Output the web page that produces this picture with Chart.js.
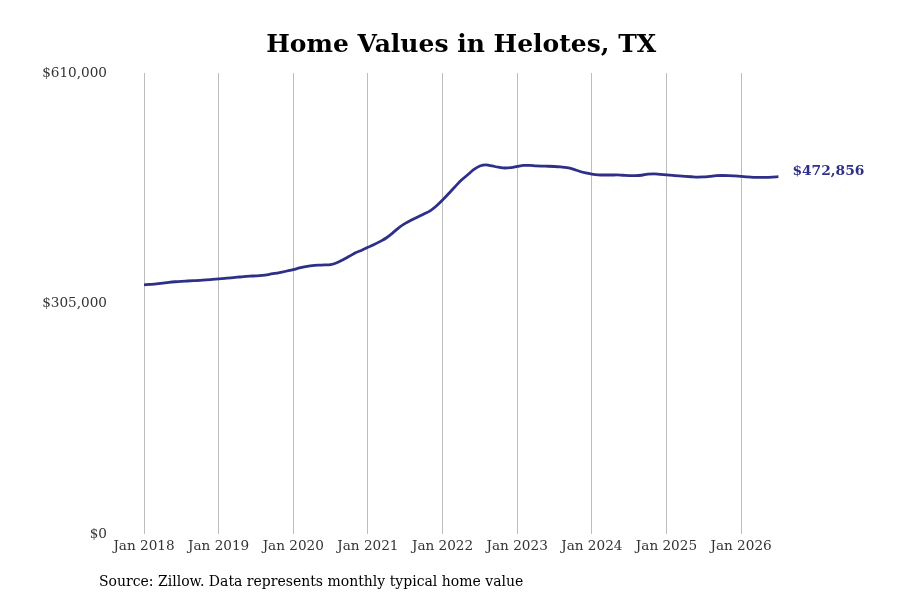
<!DOCTYPE html>
<html>
<head>
<meta charset="utf-8">
<script src="https://cdn.jsdelivr.net/npm/chart.js@4.4.1/dist/chart.umd.min.js"></script>
<style>
  html, body { margin: 0; padding: 0; background: #fff; }
  #wrap { width: 900px; height: 600px; position: relative; }
</style>
</head>
<body>
<div id="wrap"><canvas id="c" width="900" height="600"></canvas></div>
<script>
const chartTitle = "Home Values in Helotes, TX";
const sourceNote = "Source: Zillow. Data represents monthly typical home value";
const years = [2018, 2019, 2020, 2021, 2022, 2023, 2024, 2025, 2026];
const monthNames = ["Jan","Feb","Mar","Apr","May","Jun","Jul","Aug","Sep","Oct","Nov","Dec"];
const yTicks = [0, 305000, 610000];

const values2018 = [329700, 330300, 331000, 332000, 333000, 333800, 334400, 334800, 335200, 335600, 336200, 336900];
const values2019 = [337600, 338300, 339000, 339800, 340600, 341200, 341600, 342200, 343300, 344700, 346300, 348000];
const values2020 = [349800, 352000, 353800, 355000, 355700, 356000, 356500, 359000, 363000, 367500, 372000, 375500];
const values2021 = [379300, 383000, 387200, 392000, 398500, 405500, 411000, 415500, 419500, 423500, 427500, 434000];
const values2022 = [441900, 450500, 459500, 468000, 475000, 482000, 487000, 488500, 487000, 485300, 484300, 484800];
const values2023 = [486300, 487800, 487800, 487000, 486700, 486600, 486300, 485700, 484800, 482800, 480000, 477800];
const values2024 = [476300, 475300, 475000, 475000, 475100, 474700, 474300, 474200, 474700, 476300, 476600, 475900];
const values2025 = [475200, 474500, 473800, 473200, 472700, 472300, 472500, 473300, 474100, 474400, 474300, 473800];
const values2026 = [473200, 472500, 472000, 471800, 471900, 472300, 472856];

const series = [].concat(values2018, values2019, values2020, values2021, values2022,
                         values2023, values2024, values2025, values2026);
const labels = [];
years.forEach(y => monthNames.forEach(m => labels.push(m + " " + y)));
labels.length = series.length;

const lineColor = "#2e2f86";
const serif = "'DejaVu Serif', serif";

const decor = {
  id: 'decor',
  afterDraw(chart) {
    const ctx = chart.ctx;
    const a = chart.chartArea;
    ctx.save();
    ctx.fillStyle = "#000";
    ctx.font = "bold 25px " + serif;
    ctx.textAlign = "center";
    ctx.textBaseline = "alphabetic";
    ctx.fillText(chartTitle, (a.left + a.right) / 2, 52);
    ctx.font = "14px " + serif;
    ctx.textAlign = "left";
    ctx.textBaseline = "middle";
    ctx.fillText(sourceNote, 99, 582);
    const meta = chart.getDatasetMeta(0);
    const last = meta.data[meta.data.length - 1];
    const v = series[series.length - 1];
    ctx.fillStyle = lineColor;
    ctx.font = "bold 13.8px " + serif;
    ctx.fillText("$" + v.toLocaleString("en-US"), last.x + 14, last.y - 5);
    ctx.restore();
  }
};

new Chart(document.getElementById("c"), {
  type: "line",
  data: {
    labels: labels,
    datasets: [{
      data: series,
      borderColor: lineColor,
      borderWidth: 2.8,
      pointRadius: 0,
      tension: 0.4,
      cubicInterpolationMode: "monotone",
      fill: false
    }]
  },
  options: {
    responsive: false,
    animation: false,
    layout: { padding: { top: 73, right: 121.6, bottom: 0, left: 0 } },
    plugins: { legend: { display: false }, tooltip: { enabled: false } },
    scales: {
      x: {
        type: "category",
        offset: false,
        border: { display: false },
        grid: { display: true, color: "#bdbdbd", lineWidth: 1, drawTicks: false },
        ticks: {
          autoSkip: false,
          maxRotation: 0,
          padding: 4,
          color: "#333",
          font: { family: serif, size: 13.6 },
          callback: function (val, i) {
            const l = labels[i];
            return l && l.startsWith("Jan") ? l : null;
          }
        },
        afterFit: function (s) { s.height = 66; }
      },
      y: {
        min: 0,
        max: 610000,
        border: { display: false },
        grid: { display: false, drawTicks: false },
        afterBuildTicks: function (s) { s.ticks = yTicks.map(v => ({ value: v })); },
        ticks: {
          padding: 37,
          color: "#333",
          font: { family: serif, size: 13.6 },
          callback: v => "$" + Number(v).toLocaleString("en-US")
        },
        afterFit: function (s) { s.width = 144; }
      }
    }
  },
  plugins: [decor]
});
</script>
</body>
</html>
